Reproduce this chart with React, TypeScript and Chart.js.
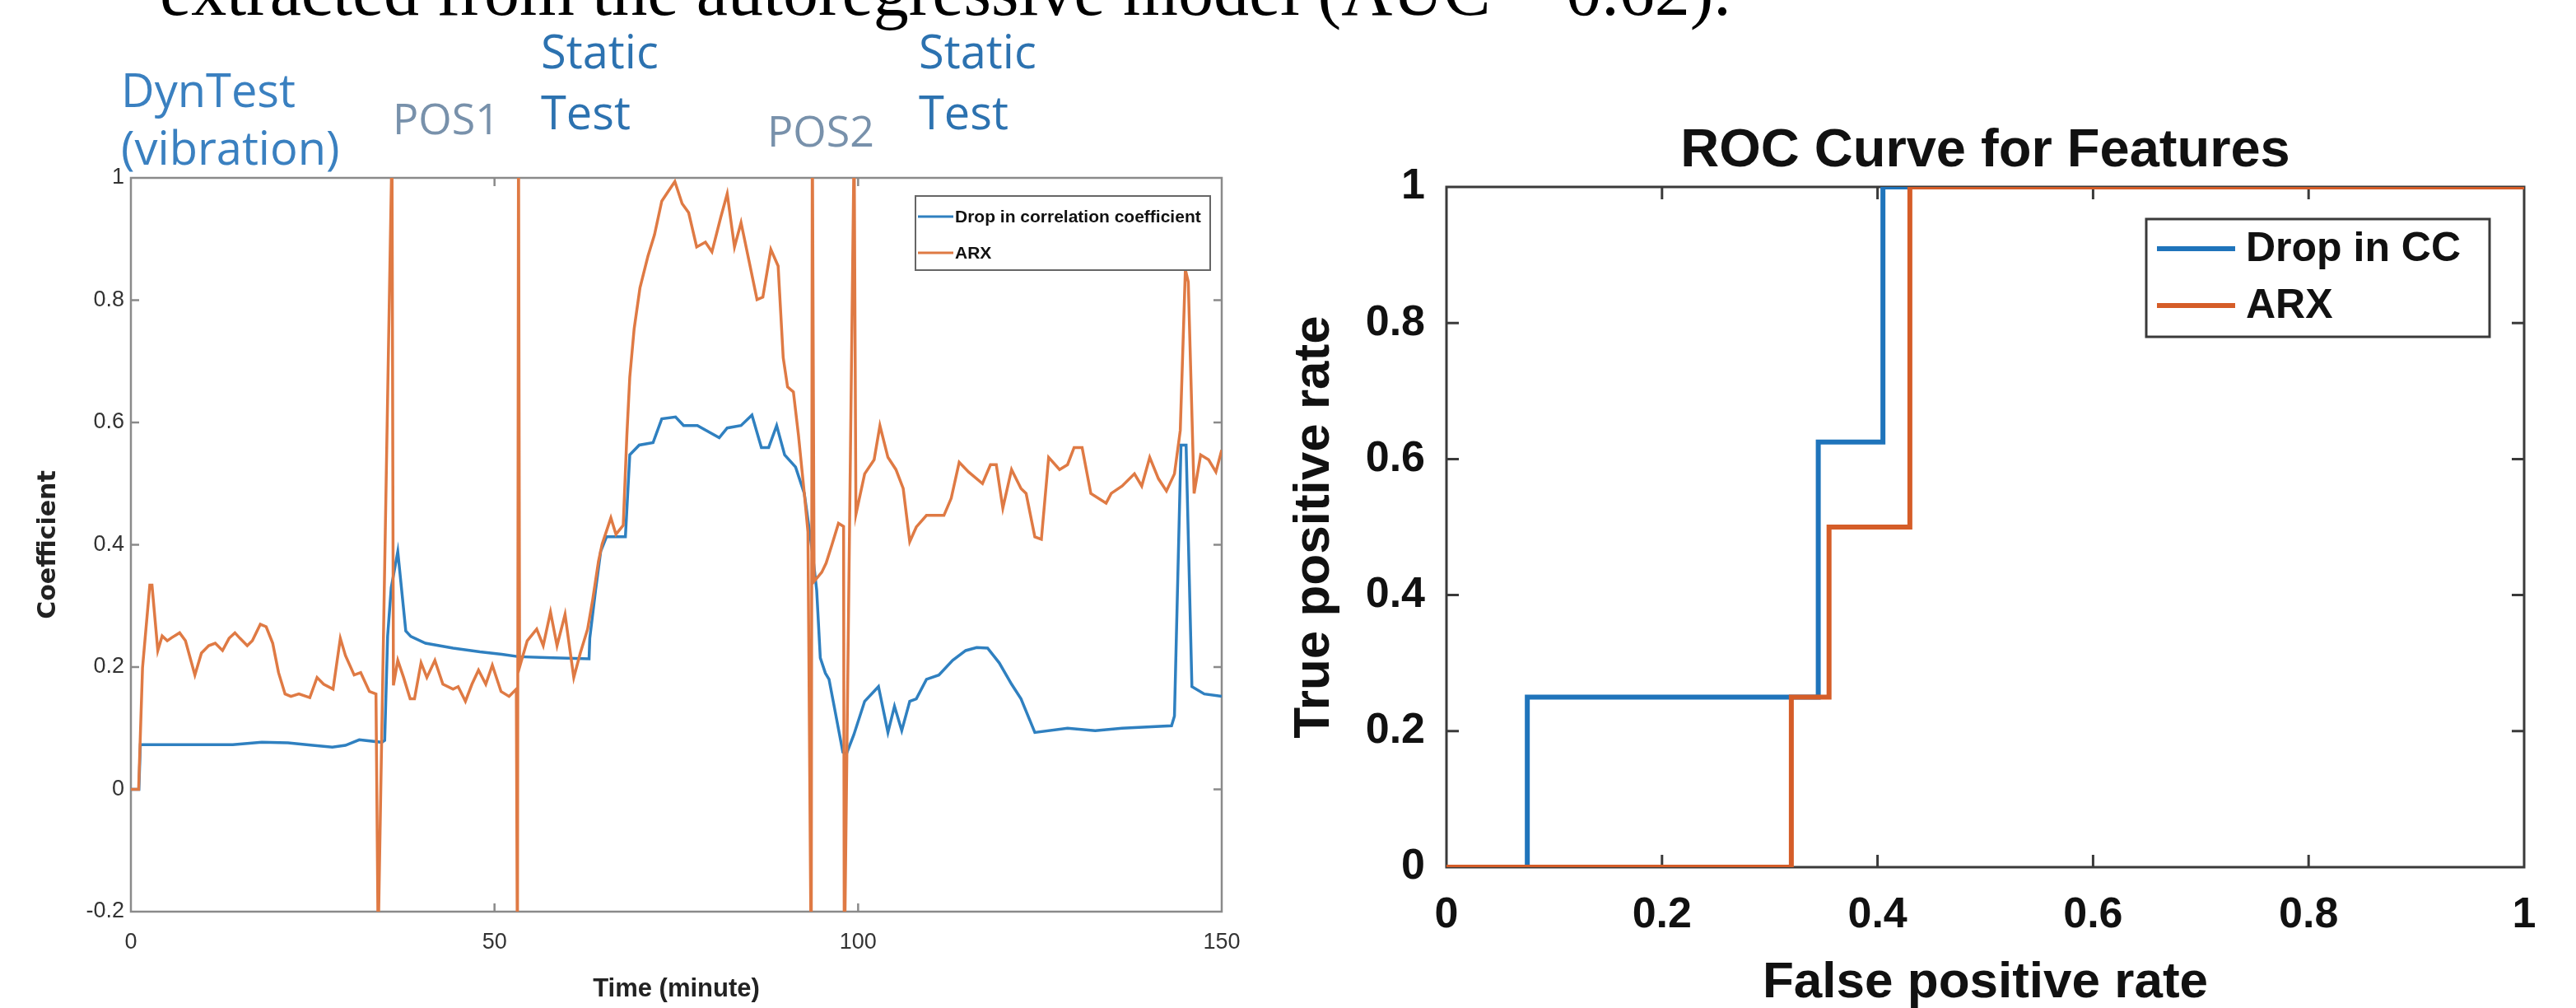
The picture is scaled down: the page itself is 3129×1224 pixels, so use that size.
import React, { useEffect, useRef } from "react";
import { Chart, registerables } from "chart.js";

Chart.register(...registerables);

// ---------- text ----------
const topCaption = "extracted from the autoregressive model (AUC = 0.62).";
const phaseLabels = ["DynTest", "(vibration)", "POS1", "Static", "Test", "POS2", "Static", "Test"];
const leftSeriesNames = ["Drop in correlation coefficient", "ARX"];
const rightSeriesNames = ["Drop in CC", "ARX"];
const leftXTitle = "Time (minute)";
const leftYTitle = "Coefficient";
const rightTitle = "ROC Curve for Features";
const rightXTitle = "False positive rate";
const rightYTitle = "True positive rate";

// ---------- left chart ticks ----------
const timeTicks = [0, 50, 100, 150];
const coefTicks = [-0.2, 0, 0.2, 0.4, 0.6, 0.8, 1];

// ---------- left chart series (time in minutes, coefficient) ----------
const ccTime = [
  0, 1.1, 1.3, 5, 10, 14, 18, 21.6, 25, 27.7, 29.5, 31.4, 34.5, 34.9, 35.3, 35.8, 36.7, 37.8, 38.5, 40.5,
  44.3, 48, 51, 53.3, 58, 63, 63.1, 63.9, 64.6, 65.4, 68.0, 68.6, 69.9, 71.8, 73.0, 74.9, 76.0, 77.9, 80.9,
  82.0, 83.9, 85.4, 86.7, 87.7, 88.8, 89.9, 91.4, 92.6, 93.7, 94.3, 94.8, 95.5, 96.0, 96.8, 97.9, 98.4,
  99.4, 100.9, 102.8, 104.1, 105.0, 106.0, 107.1, 108.0, 109.4, 111.1, 113.0, 114.8, 116.3, 117.8, 119.4,
  121.1, 122.4, 124.3, 128.8, 132.6, 136.3, 143.1, 143.5, 144.4, 145.1, 145.9, 147.6, 150,
];
const ccValue = [
  0, 0, 0.073, 0.073, 0.073, 0.073, 0.077, 0.076, 0.072, 0.069, 0.072, 0.081, 0.077, 0.08, 0.25, 0.33, 0.389,
  0.259, 0.25, 0.239, 0.231, 0.225, 0.221, 0.217, 0.215, 0.2135, 0.247, 0.326, 0.389, 0.413, 0.413, 0.547,
  0.563, 0.567, 0.606, 0.609, 0.595, 0.595, 0.575, 0.591, 0.595, 0.612, 0.559, 0.559, 0.595, 0.547, 0.527,
  0.484, 0.389, 0.326, 0.215, 0.19, 0.18, 0.13, 0.061, 0.058, 0.089, 0.144, 0.168, 0.093, 0.136, 0.096,
  0.144, 0.148, 0.18, 0.187, 0.211, 0.227, 0.232, 0.231, 0.207, 0.172, 0.148, 0.093, 0.1, 0.096, 0.1, 0.104,
  0.12, 0.563, 0.563, 0.168, 0.156, 0.152,
];

const arxTime = [
  0, 1.06, 1.6, 2.6, 2.9, 3.7, 4.3, 5.0, 5.6, 6.7, 7.5, 8.8, 9.7, 10.7, 11.6, 12.6, 13.5, 14.3, 15.0, 16.0,
  16.7, 17.8, 18.6, 19.5, 20.3, 21.2, 22.0, 23.1, 24.6, 25.6, 26.5, 27.8, 28.8, 29.5, 30.7, 31.6, 32.8, 33.7,
  34.0, 35.9, 36.1, 36.7, 37.5, 38.4, 39.0, 39.9, 40.7, 41.8, 42.9, 44.3, 45.0, 46.0, 46.9, 47.8, 48.8, 49.7,
  50.9, 52.0, 53.0, 53.15, 53.3, 53.45, 54.5, 55.8, 56.7, 57.7, 58.6, 59.7, 60.9, 61.8, 62.8, 63.5, 64.3,
  64.8, 66.0, 66.7, 67.7, 68.2, 68.6, 69.2, 70.0, 71.1, 72.0, 73.0, 73.9, 74.8, 75.8, 76.7, 77.8, 79.0, 79.9,
  81.1, 82.0, 83.0, 83.9, 85.0, 86.1, 86.9, 88.0, 89.0, 89.7, 90.3, 91.1, 91.8, 92.6, 93.1, 93.55, 93.7,
  93.95, 95.0, 95.6, 96.4, 97.3, 98.0, 98.1, 99.45, 99.7, 100.9, 102.2, 103.0, 104.1, 105.2, 106.2, 107.1,
  108.0, 109.4, 111.8, 112.8, 113.9, 115.2, 117.1, 118.2, 119.0, 119.9, 121.1, 122.4, 123.1, 124.3, 125.2,
  126.2, 127.7, 128.8, 129.7, 130.8, 132.0, 134.1, 134.8, 136.3, 138.0, 139.0, 140.1, 141.3, 142.4, 143.5,
  144.3, 145.0, 145.4, 146.2, 147.1, 148.2, 149.2, 150,
];
const arxValue = [
  0, 0, 0.199, 0.334, 0.334, 0.227, 0.251, 0.243, 0.248, 0.256, 0.243, 0.187, 0.223, 0.235, 0.239, 0.227,
  0.247, 0.256, 0.247, 0.235, 0.243, 0.27, 0.266, 0.239, 0.191, 0.156, 0.152, 0.156, 0.15, 0.183, 0.172,
  0.164, 0.247, 0.219, 0.187, 0.191, 0.16, 0.156, -0.25, 1.05, 0.17, 0.211, 0.183, 0.148, 0.148, 0.207,
  0.183, 0.211, 0.172, 0.164, 0.168, 0.144, 0.172, 0.195, 0.172, 0.203, 0.16, 0.152, 0.164, -0.3, 1.1, 0.2,
  0.243, 0.262, 0.235, 0.29, 0.235, 0.286, 0.183, 0.223, 0.262, 0.31, 0.373, 0.401, 0.444, 0.417, 0.432,
  0.579, 0.674, 0.753, 0.82, 0.872, 0.907, 0.962, 0.978, 0.994, 0.958, 0.943, 0.887, 0.895, 0.879, 0.935,
  0.974, 0.887, 0.927, 0.864, 0.801, 0.805, 0.883, 0.856, 0.706, 0.658, 0.65, 0.579, 0.484, 0.421, -0.3,
  1.1, 0.34, 0.355, 0.37, 0.4, 0.435, 0.43, -0.3, 1.06, 0.45, 0.516, 0.539, 0.595, 0.543, 0.523, 0.492,
  0.405, 0.429, 0.448, 0.448, 0.476, 0.535, 0.519, 0.5, 0.531, 0.531, 0.46, 0.523, 0.492, 0.484, 0.413,
  0.409, 0.543, 0.523, 0.531, 0.559, 0.559, 0.484, 0.468, 0.484, 0.496, 0.516, 0.496, 0.543, 0.508, 0.488,
  0.516, 0.587, 0.85, 0.83, 0.484, 0.547, 0.539, 0.519, 0.555,
];

// ---------- right chart (ROC) ----------
const rocTicks = [0, 0.2, 0.4, 0.6, 0.8, 1];
const ccFpr = [0, 0.075, 0.075, 0.345, 0.345, 0.405, 0.405, 1];
const ccTpr = [0, 0, 0.25, 0.25, 0.625, 0.625, 1, 1];
const arxFpr = [0, 0.32, 0.32, 0.355, 0.355, 0.43, 0.43, 1];
const arxTpr = [0, 0, 0.25, 0.25, 0.5, 0.5, 1, 1];

// ---------- helpers ----------
const pts = (xs: number[], ys: number[]) => xs.map((x, i) => ({ x, y: ys[i] }));
const fixedTicks = (vals: number[]) => (scale: any) => {
  scale.ticks = vals.map((v) => ({ value: v }));
};
const SANS = '"Liberation Sans", Arial, sans-serif';
const NARROW = '"Liberation Sans Narrow", "Liberation Sans", Arial, sans-serif';

function framePlugin(color: string, width: number, tickLen: number, xt: number[], yt: number[]) {
  return {
    id: "frame",
    beforeDatasetsDraw(chart: any) {
      const { ctx, chartArea, scales } = chart;
      const { left, right, top, bottom } = chartArea;
      ctx.save();
      ctx.strokeStyle = color;
      ctx.lineWidth = width;
      ctx.strokeRect(left, top, right - left, bottom - top);
      ctx.beginPath();
      for (const v of xt) {
        const p = scales.x.getPixelForValue(v);
        if (p <= left + 2 || p >= right - 2) continue;
        ctx.moveTo(p, bottom);
        ctx.lineTo(p, bottom - tickLen);
        ctx.moveTo(p, top);
        ctx.lineTo(p, top + tickLen);
      }
      for (const v of yt) {
        const p = scales.y.getPixelForValue(v);
        if (p <= top + 2 || p >= bottom - 2) continue;
        ctx.moveTo(left, p);
        ctx.lineTo(left + tickLen, p);
        ctx.moveTo(right, p);
        ctx.lineTo(right - tickLen, p);
      }
      ctx.stroke();
      ctx.restore();
    },
  };
}

function legendPlugin(o: {
  rightGap: number; topGap: number; w: number; h: number; rows: number[];
  lineFrom: number; lineTo: number; textX: number; lineWidth: number; font: string;
  border: string; borderWidth: number;
}) {
  return {
    id: "boxLegend",
    afterDatasetsDraw(chart: any) {
      const { ctx, chartArea } = chart;
      const bx = chartArea.right - o.rightGap - o.w;
      const by = chartArea.top + o.topGap;
      ctx.save();
      ctx.fillStyle = "#ffffff";
      ctx.fillRect(bx, by, o.w, o.h);
      ctx.strokeStyle = o.border;
      ctx.lineWidth = o.borderWidth;
      ctx.strokeRect(bx, by, o.w, o.h);
      chart.data.datasets.forEach((ds: any, i: number) => {
        const cy = by + o.rows[i];
        ctx.strokeStyle = ds.borderColor;
        ctx.lineWidth = o.lineWidth;
        ctx.beginPath();
        ctx.moveTo(bx + o.lineFrom, cy);
        ctx.lineTo(bx + o.lineTo, cy);
        ctx.stroke();
        ctx.fillStyle = "#111";
        ctx.font = o.font;
        ctx.textBaseline = "middle";
        ctx.textAlign = "left";
        ctx.fillText(ds.label, bx + o.textX, cy + 1);
      });
      ctx.restore();
    },
  };
}

// layout of the phase annotations (offsets from the left plot's top-left corner)
const phaseLayout = [
  { dx: -12, base: -86, size: 56, color: "#3a80c0" },
  { dx: -12, base: -16, size: 56, color: "#3a80c0" },
  { dx: 318, base: -53, size: 52, color: "#7891ab" },
  { dx: 498, base: -133, size: 56, color: "#2c72b0" },
  { dx: 498, base: -59, size: 56, color: "#2c72b0" },
  { dx: 773, base: -38, size: 52, color: "#7891ab" },
  { dx: 957, base: -133, size: 56, color: "#2c72b0" },
  { dx: 957, base: -59, size: 56, color: "#2c72b0" },
];

const phasePlugin = {
  id: "phases",
  afterDraw(chart: any) {
    const { ctx, chartArea } = chart;
    ctx.save();
    ctx.textBaseline = "alphabetic";
    ctx.textAlign = "left";
    phaseLabels.forEach((t, i) => {
      const l = phaseLayout[i];
      ctx.font = `${l.size}px "Open Sans", "Noto Sans", sans-serif`;
      ctx.fillStyle = l.color;
      ctx.fillText(t, chartArea.left + l.dx, chartArea.top + l.base);
    });
    ctx.restore();
  },
};

const rocTitlePlugin = {
  id: "rocTitle",
  afterDraw(chart: any) {
    const { ctx, chartArea } = chart;
    ctx.save();
    ctx.font = `bold 65px ${SANS}`;
    ctx.fillStyle = "#111";
    ctx.textAlign = "center";
    ctx.textBaseline = "alphabetic";
    ctx.fillText(rightTitle, (chartArea.left + chartArea.right) / 2, chartArea.top - 25);
    ctx.restore();
  },
};

export default function App() {
  const leftRef = useRef<HTMLCanvasElement>(null);
  const rightRef = useRef<HTMLCanvasElement>(null);

  useEffect(() => {
    const left = new Chart(leftRef.current as HTMLCanvasElement, {
      type: "line",
      data: {
        datasets: [
          {
            label: leftSeriesNames[0],
            data: pts(ccTime, ccValue),
            borderColor: "#2f80c0",
            borderWidth: 3.5,
            pointRadius: 0,
            tension: 0,
            order: 1,
          },
          {
            label: leftSeriesNames[1],
            data: pts(arxTime, arxValue),
            borderColor: "#df7a44",
            borderWidth: 3.5,
            pointRadius: 0,
            tension: 0,
            order: 0,
          },
        ],
      },
      options: {
        animation: false,
        responsive: false,
        events: [],
        layout: { padding: { left: 0, top: 216, right: 56, bottom: 0 } },
        plugins: { legend: { display: false }, title: { display: false }, tooltip: { enabled: false } },
        scales: {
          x: {
            type: "linear",
            min: 0,
            max: 150,
            afterBuildTicks: fixedTicks(timeTicks),
            afterFit: (s: any) => { s.height = 117; },
            grid: { display: false, drawTicks: false },
            border: { display: false },
            ticks: { font: { family: SANS, size: 27 }, color: "#333", padding: 21, maxRotation: 0, autoSkip: false, callback: (v: any) => String(v) },
            title: { display: true, text: leftXTitle, color: "#222", font: { family: NARROW, size: 31, weight: "bold", lineHeight: 1.2 }, padding: { top: 0, bottom: 4 } },
          },
          y: {
            type: "linear",
            min: -0.2,
            max: 1,
            afterBuildTicks: fixedTicks(coefTicks),
            afterFit: (s: any) => { s.width = 159; },
            grid: { display: false, drawTicks: false },
            border: { display: false },
            ticks: { font: { family: SANS, size: 27 }, color: "#333", padding: 8, autoSkip: false, callback: (v: any) => String(v) },
            title: { display: true, text: leftYTitle, color: "#222", font: { family: '"DejaVu Sans", sans-serif', size: 30, weight: "bold", lineHeight: 1.2 }, padding: { top: 41, bottom: 0 } },
          },
        },
      },
      plugins: [
        framePlugin("#8a8a8a", 2.5, 10, timeTicks, coefTicks),
        legendPlugin({ rightGap: 14, topGap: 22, w: 358, h: 90, rows: [25, 69], lineFrom: 3, lineTo: 46, textX: 48, lineWidth: 3, font: `bold 21px ${SANS}`, border: "#666", borderWidth: 2 }),
        phasePlugin,
      ],
    } as any);

    const right = new Chart(rightRef.current as HTMLCanvasElement, {
      type: "line",
      data: {
        datasets: [
          {
            label: rightSeriesNames[0],
            data: pts(ccFpr, ccTpr),
            borderColor: "#1f74bb",
            borderWidth: 6,
            pointRadius: 0,
            tension: 0,
            order: 1,
          },
          {
            label: rightSeriesNames[1],
            data: pts(arxFpr, arxTpr),
            borderColor: "#d55d28",
            borderWidth: 6,
            pointRadius: 0,
            tension: 0,
            order: 0,
          },
        ],
      },
      options: {
        animation: false,
        responsive: false,
        events: [],
        layout: { padding: { left: 0, top: 227, right: 63, bottom: 0 } },
        plugins: { legend: { display: false }, title: { display: false }, tooltip: { enabled: false } },
        scales: {
          x: {
            type: "linear",
            min: 0,
            max: 1,
            afterBuildTicks: fixedTicks(rocTicks),
            afterFit: (s: any) => { s.height = 171; },
            grid: { display: false, drawTicks: false },
            border: { display: false },
            ticks: { font: { family: SANS, size: 52, weight: "bold" }, color: "#111", padding: 27, maxRotation: 0, autoSkip: false, callback: (v: any) => String(v) },
            title: { display: true, text: rightXTitle, color: "#111", font: { family: SANS, size: 62, weight: "bold", lineHeight: 1 }, padding: { top: 0, bottom: -1 } },
          },
          y: {
            type: "linear",
            min: 0,
            max: 1,
            afterBuildTicks: fixedTicks(rocTicks),
            afterFit: (s: any) => { s.width = 197; },
            grid: { display: false, drawTicks: false },
            border: { display: false },
            ticks: { font: { family: SANS, size: 52, weight: "bold" }, color: "#111", padding: 26, autoSkip: false, callback: (v: any) => String(v) },
            title: { display: true, text: rightYTitle, color: "#111", font: { family: SANS, size: 62, weight: "bold", lineHeight: 1 }, padding: { top: 6, bottom: 0 } },
          },
        },
      },
      plugins: [
        framePlugin("#3a3a3a", 3, 15, rocTicks, rocTicks),
        legendPlugin({ rightGap: 42, topGap: 39, w: 417, h: 143, rows: [36, 105], lineFrom: 13, lineTo: 108, textX: 121, lineWidth: 6, font: `bold 50px ${SANS}`, border: "#3a3a3a", borderWidth: 3 }),
        rocTitlePlugin,
      ],
    } as any);

    return () => {
      left.destroy();
      right.destroy();
    };
  }, []);

  return (
    <div style={{ position: "absolute", left: 0, top: 0, width: 3129, height: 1224, background: "#ffffff", overflow: "hidden" }}>
      <canvas ref={leftRef} width={1540} height={1224} style={{ position: "absolute", left: 0, top: 0, width: 1540, height: 1224 }} />
      <canvas ref={rightRef} width={1569} height={1224} style={{ position: "absolute", left: 1560, top: 0, width: 1569, height: 1224 }} />
      <div
        style={{
          position: "absolute",
          left: 194,
          top: -54,
          font: '86px "Liberation Serif", "Times New Roman", serif',
          lineHeight: "86px",
          whiteSpace: "nowrap",
          color: "#000",
        }}
      >
        {topCaption}
      </div>
    </div>
  );
}
